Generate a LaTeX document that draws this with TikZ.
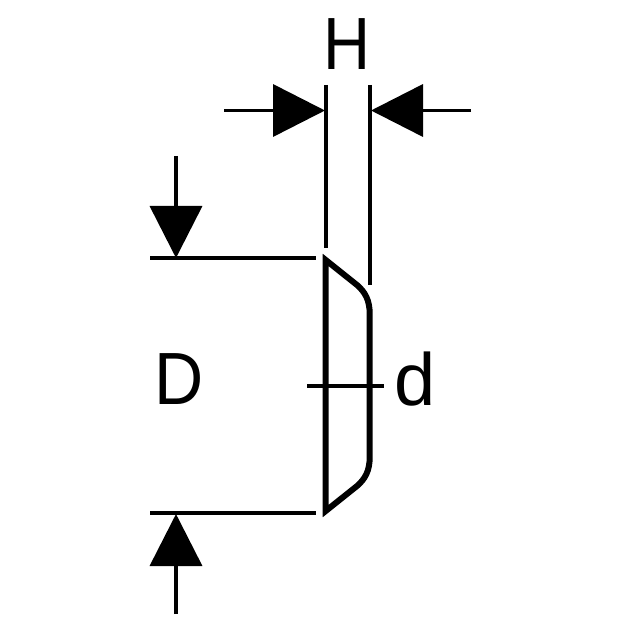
\documentclass[tikz,border=0pt]{standalone}
\usepackage{fontspec}
\setmainfont{Liberation Sans}
\usetikzlibrary{arrows.meta}
\tikzset{
  dimline/.style = {line width = 3.6pt},
  dimarrow/.style = {dimline, -{Triangle[length = 52pt, width = 52pt]}},
  dimlabel/.style = {inner sep = 0pt, font = \fontsize{74}{74}\selectfont}
}
\begin{document}
\begin{tikzpicture}[x = 1pt, y = -1pt]
   \useasboundingbox (0,0) rectangle (620,620);
   % witness lines
   \coordinate (Htop1) at (325.7,85);
   \coordinate (Hbot1) at (325.7,248);
   \coordinate (Htop2) at (369.7,85);
   \coordinate (Hbot2) at (369.7,285);
   \coordinate (Dtop1) at (150,258);
   \coordinate (Dtop2) at (316,258);
   \coordinate (Dbot1) at (150,513);
   \coordinate (Dbot2) at (316,513);
   \coordinate (d1) at (307,386);
   \coordinate (d2) at (384,386);
   \draw[dimline] (Htop1) -- (Hbot1);
   \draw[dimline] (Htop2) -- (Hbot2);
   \draw[dimline] (Dtop1) -- (Dtop2);
   \draw[dimline] (Dbot1) -- (Dbot2);
   \draw[dimline] (d1) -- (d2);
   % arrows
   \coordinate (HA1) at (224,110.5);
   \coordinate (HT1) at (325,110.5);
   \coordinate (HA2) at (471,110.5);
   \coordinate (HT2) at (371,110.5);
   \coordinate (DA1) at (176,156);
   \coordinate (DT1) at (176,258);
   \coordinate (DA2) at (176,614);
   \coordinate (DT2) at (176,514);
   \draw[dimarrow] (HA1) -- (HT1);
   \draw[dimarrow] (HA2) -- (HT2);
   \draw[dimarrow] (DA1) -- (DT1);
   \draw[dimarrow] (DA2) -- (DT2);
   % seal profile
   \draw[line width = 6pt, miter limit = 10]
      (325.7,260) -- (357,285)
      .. controls (365,292) and (369.7,300) .. (369.7,314)
      -- (369.7,457)
      .. controls (369.7,471) and (365,479) .. (357,486)
      -- (325.7,511) -- cycle;
   % labels
   \node[dimlabel, xscale = .88, transform shape] (H) at (347.5,44.5) {H};
   \node[dimlabel, xscale = .92, transform shape] (D) at (179,379) {D};
   \node[dimlabel] (d) at (415.5,379.5) {d};
\end{tikzpicture}
\end{document}
